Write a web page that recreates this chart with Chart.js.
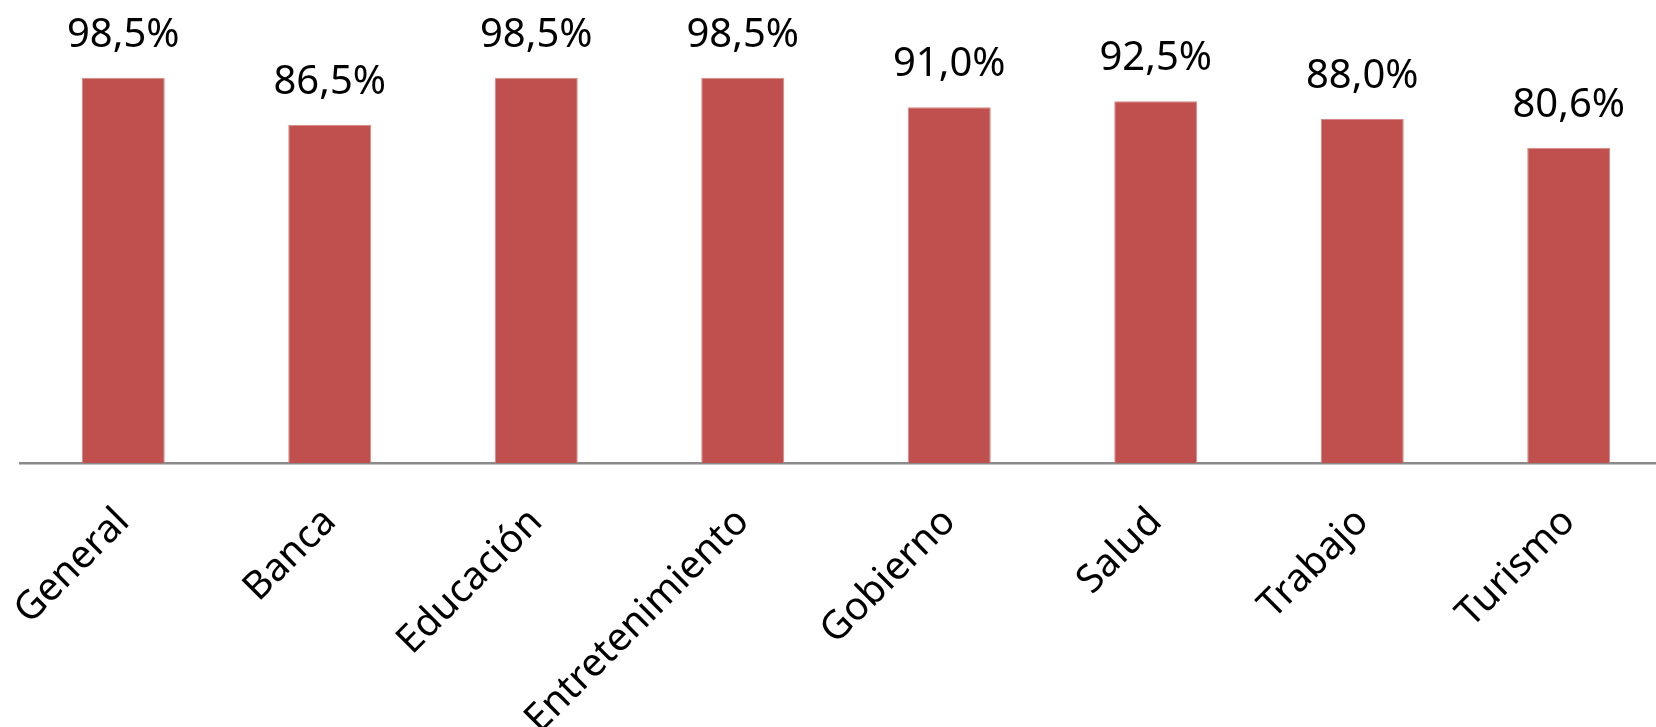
<!DOCTYPE html>
<html>
<head>
<meta charset="utf-8">
<script src="https://cdn.jsdelivr.net/npm/chart.js@4"></script>
<style>
html,body{margin:0;padding:0;background:#fff;overflow:hidden;}
#wrap{width:1672px;height:727px;position:relative;}
</style>
</head>
<body>
<div id="wrap"><canvas id="c" width="1672" height="727"></canvas></div>
<script>
const categories = ["General","Banca","Educación","Entretenimiento","Gobierno","Salud","Trabajo","Turismo"];
const values = [98.5, 86.5, 98.5, 98.5, 91.0, 92.5, 88.0, 80.6];
const valueLabels = ["98,5%","86,5%","98,5%","98,5%","91,0%","92,5%","88,0%","80,6%"];

const FONT = "'Noto Sans'";

const labelPlugin = {
  id: 'barLabels',
  afterDatasetsDraw(chart) {
    const ctx = chart.ctx;
    const meta = chart.getDatasetMeta(0);
    ctx.save();
    ctx.font = "40px " + FONT;
    ctx.fillStyle = "#000";
    ctx.textAlign = "center";
    ctx.textBaseline = "alphabetic";
    meta.data.forEach((bar, i) => {
      ctx.fillText(valueLabels[i], bar.x, bar.y - 31);
    });
    ctx.restore();
  }
};

new Chart(document.getElementById('c'), {
  type: 'bar',
  data: {
    labels: categories,
    datasets: [{
      data: values,
      backgroundColor: '#C0504D',
      borderColor: '#D48A88',
      borderWidth: {left:1,right:1,top:1,bottom:0},
      categoryPercentage: 1.0,
      barPercentage: 0.402,
      clip: false
    }]
  },
  options: {
    responsive: false,
    animation: false,
    events: [],
    layout: { padding: { top: 72, left: 20, right: 0, bottom: 0 } },
    plugins: { legend: { display: false }, tooltip: { enabled: false } },
    scales: {
      y: { display: false, min: 0, max: 100 },
      x: {
        grid: { display: false },
        border: { display: true, color: '#8A8A8A', width: 2.5 },
        ticks: {
          autoSkip: false,
          maxRotation: 45,
          minRotation: 45,
          color: '#000',
          padding: 28,
          font: { family: FONT, size: 39 }
        },
        afterFit(scale) {
          scale.height = 264;
          scale.paddingLeft = 0;
          scale.paddingRight = 0;
        }
      }
    }
  },
  plugins: [labelPlugin]
});
</script>
</body>
</html>
